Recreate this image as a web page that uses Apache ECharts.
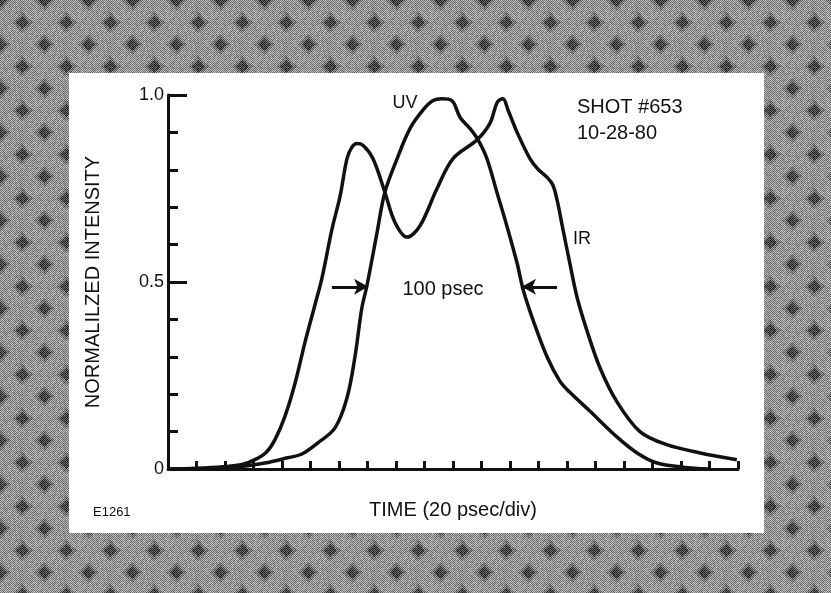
<!DOCTYPE html>
<html>
<head>
<meta charset="utf-8">
<title>Shot 653</title>
<script src="https://cdn.jsdelivr.net/npm/echarts@6/dist/echarts.min.js"></script>
<style>
  html, body { margin: 0; padding: 0; background: #8c8c8c; }
  #chart { width: 831px; height: 593px; }
</style>
</head>
<body>
<div id="chart"></div>
<script>
// time in divisions (20 psec/div), normalized intensity
var irTime = [0, 1.0, 1.93, 2.6, 3.05, 3.45, 3.75, 4.1, 4.46, 4.81, 5.16, 5.4, 5.75, 6.04, 6.28, 6.45, 6.63, 6.85,
              7.19, 7.61, 7.96, 8.39, 8.84, 9.44, 10.0, 10.84, 11.3, 11.55, 11.75, 11.93, 12.25, 12.7, 13.0, 13.3,
              13.5, 13.65, 13.86, 14.1, 14.35, 14.7, 15.16, 15.75, 16.56, 17.5, 18.67, 19.96];
var irVal  = [0, 0.002, 0.006, 0.012, 0.025, 0.045, 0.078, 0.14, 0.23, 0.34, 0.44, 0.51, 0.64, 0.73, 0.83, 0.86, 0.87, 0.865,
              0.83, 0.74, 0.66, 0.62, 0.65, 0.75, 0.83, 0.88, 0.925, 0.98, 0.99, 0.96, 0.90, 0.83, 0.80, 0.78,
              0.76, 0.72, 0.64, 0.55, 0.46, 0.37, 0.27, 0.18, 0.10, 0.065, 0.043, 0.025];
var uvTime = [0, 1.05, 2.25, 3.4, 4.2, 4.7, 5.26, 5.86, 6.28, 6.56, 6.8, 6.98, 7.33, 7.61, 8.04, 8.49, 8.95, 9.3, 9.6,
              9.96, 10.25, 10.6, 10.88, 11.19, 11.54, 11.89, 12.25, 12.46, 12.8, 13.3, 13.75, 14.1, 14.8, 15.75,
              16.46, 17.16, 18.07, 19.0];
var uvVal  = [0, 0, 0.004, 0.016, 0.03, 0.04, 0.07, 0.11, 0.19, 0.30, 0.43, 0.49, 0.63, 0.74, 0.83, 0.91, 0.96, 0.985, 0.99,
              0.985, 0.94, 0.91, 0.88, 0.83, 0.74, 0.65, 0.55, 0.48, 0.40, 0.30, 0.235, 0.205, 0.155, 0.086,
              0.043, 0.016, 0.005, 0];
// FWHM arrows of the UV pulse
var fwhmLeft  = [[5.75, 0.487], [7.02, 0.487]];
var fwhmRight = [[13.65, 0.487], [12.42, 0.487]];

var FONT = "'Liberation Sans', Arial, Helvetica, sans-serif";

function pairs(xs, ys) {
    var out = [];
    for (var i = 0; i < xs.length; i++) out.push([xs[i], ys[i]]);
    return out;
}

// halftone-ish border texture (deterministic dither)
function makeTexture() {
    var n = 44;
    var c = document.createElement('canvas');
    c.width = n; c.height = n;
    var g = c.getContext('2d');
    var h = n / 2;
    for (var y = 0; y < n; y++) {
        for (var x = 0; x < n; x++) {
            var d = Math.abs(x - h) + Math.abs(y - h);
            var ring = Math.min(d, n - d);            // diamonds + corner diamonds
            var hash = ((x * 73856093) ^ (y * 19349663)) >>> 0;
            var dot = (hash % 7) / 6;
            var base = ring < 7 ? 70 : (ring < 11 ? 120 : 150);
            var v = base + ((x + y) % 2 === 0 ? -35 : 35) + (dot - 0.5) * 40;
            v = Math.max(20, Math.min(235, Math.round(v)));
            g.fillStyle = 'rgb(' + v + ',' + v + ',' + v + ')';
            g.fillRect(x, y, 1, 1);
        }
    }
    return c;
}

var chart = echarts.init(document.getElementById('chart'));

var option = {
    animation: false,
    graphic: [
        { type: 'rect', z: -20, shape: { x: 0, y: 0, width: 831, height: 593 },
          style: { fill: { image: makeTexture(), repeat: 'repeat' } } },
        { type: 'rect', z: -19, shape: { x: 69, y: 73, width: 695, height: 460 },
          style: { fill: '#ffffff' } },
        { type: 'text', x: 405, y: 103, style: { text: 'UV', font: '18px ' + FONT, fill: '#111',
          textAlign: 'center', textVerticalAlign: 'middle' } },
        { type: 'text', x: 577, y: 107, style: { text: 'SHOT #653', font: '20px ' + FONT, fill: '#111',
          textVerticalAlign: 'middle' } },
        { type: 'text', x: 577, y: 133, style: { text: '10-28-80', font: '20px ' + FONT, fill: '#111',
          textVerticalAlign: 'middle' } },
        { type: 'text', x: 573, y: 239, style: { text: 'IR', font: '18px ' + FONT, fill: '#111',
          textVerticalAlign: 'middle' } },
        { type: 'text', x: 443, y: 289, style: { text: '100 psec', font: '20px ' + FONT, fill: '#111',
          textAlign: 'center', textVerticalAlign: 'middle' } },
        { type: 'text', x: 93, y: 512, style: { text: 'E1261', font: '13px ' + FONT, fill: '#111',
          textVerticalAlign: 'middle' } }
    ],
    grid: { left: 168, right: 93, top: 95, bottom: 124 },
    xAxis: {
        type: 'value', min: 0, max: 20, interval: 1,
        name: 'TIME (20 psec/div)', nameLocation: 'middle', nameGap: 31,
        nameTextStyle: { fontFamily: FONT, fontSize: 20, color: '#111' },
        axisLine: { lineStyle: { color: '#111', width: 3 } },
        axisTick: { inside: true, length: 8, lineStyle: { color: '#111', width: 3 } },
        axisLabel: { show: false },
        splitLine: { show: false }
    },
    yAxis: [
        {
            type: 'value', min: 0, max: 1, interval: 0.5,
            name: 'NORMALILZED INTENSITY', nameLocation: 'middle', nameRotate: 90, nameGap: 65,
            nameTextStyle: { fontFamily: FONT, fontSize: 20, color: '#111' },
            axisLine: { show: true, lineStyle: { color: '#111', width: 3 } },
            axisTick: { inside: true, length: 19, lineStyle: { color: '#111', width: 3 } },
            axisLabel: { margin: 4, fontFamily: FONT, fontSize: 18, color: '#111',
                         formatter: function (v) { return v === 0 ? '0' : v.toFixed(1); } },
            splitLine: { show: false }
        },
        {
            type: 'value', min: 0, max: 1, interval: 0.1, position: 'left',
            axisLine: { show: false },
            axisTick: { show: true, inside: true, length: 10, lineStyle: { color: '#111', width: 3 } },
            axisLabel: { show: false },
            splitLine: { show: false }
        }
    ],
    series: [
        {
            name: 'IR', type: 'line', smooth: 0.35, showSymbol: false,
            data: pairs(irTime, irVal),
            lineStyle: { color: '#111', width: 3.5 }
        },
        {
            name: 'UV', type: 'line', smooth: 0.35, showSymbol: false,
            data: pairs(uvTime, uvVal),
            lineStyle: { color: '#111', width: 3.5 },
            markLine: {
                silent: true, animation: false,
                symbol: ['none', 'arrow'], symbolSize: [12, 14],
                label: { show: false },
                lineStyle: { color: '#111', width: 3, type: 'solid' },
                data: [
                    [{ coord: fwhmLeft[0] }, { coord: fwhmLeft[1] }],
                    [{ coord: fwhmRight[0] }, { coord: fwhmRight[1] }]
                ]
            }
        }
    ]
};

chart.setOption(option);
</script>
</body>
</html>
